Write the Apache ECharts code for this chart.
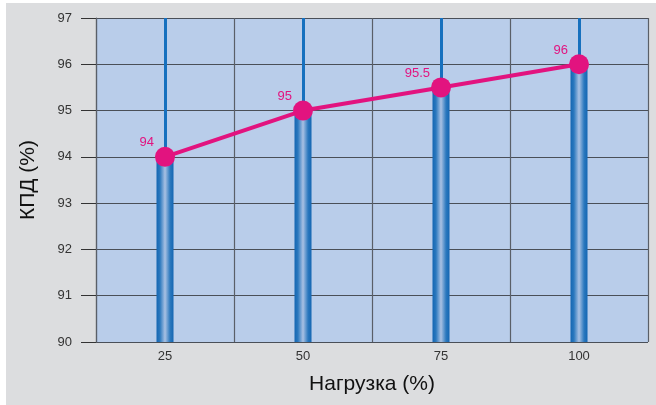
<!DOCTYPE html>
<html>
<head>
<meta charset="utf-8">
<script src="https://cdn.jsdelivr.net/npm/echarts@6/dist/echarts.min.js"></script>
<style>
  html, body { margin: 0; padding: 0; background: #ffffff; }
  #chart { width: 656px; height: 405px; }
</style>
</head>
<body>
<div id="chart"></div>
<script>
// Load levels (%) and measured efficiency (%)
const categories = ['25', '50', '75', '100'];
const efficiency = [94, 95, 95.5, 96];
const yTicks = { min: 90, max: 97, step: 1 };
const xTitle = 'Нагрузка (%)';
const yTitle = 'КПД (%)';

const chart = echarts.init(document.getElementById('chart'), null, { renderer: 'canvas' });

const barGradient = new echarts.graphic.LinearGradient(0, 0, 1, 0, [
  { offset: 0, color: '#1466b2' },
  { offset: 0.2, color: '#2a78be' },
  { offset: 0.5, color: '#a9c1e3' },
  { offset: 0.8, color: '#2a78be' },
  { offset: 1, color: '#1466b2' }
]);

chart.setOption({
  backgroundColor: '#ffffff',
  animation: false,
  graphic: [{
    type: 'rect', z: -10, silent: true,
    shape: { x: 6, y: 3, width: 650, height: 402 },
    style: { fill: '#dcdddf' }
  }],
  grid: {
    left: 96, right: 8, top: 18, bottom: 63,
    show: true, backgroundColor: '#b9cdea', borderWidth: 0
  },
  xAxis: {
    type: 'category',
    data: categories,
    name: xTitle,
    nameLocation: 'middle',
    nameGap: 32,
    nameTextStyle: { fontFamily: 'Liberation Sans', fontSize: 21, color: '#111' },
    axisLine: { show: false },
    axisTick: { show: false },
    axisLabel: { fontFamily: 'Liberation Sans', fontSize: 13, color: '#333', margin: 8 },
    splitLine: { show: true, lineStyle: { color: '#5a5f68', width: 1.2 } }
  },
  yAxis: {
    type: 'value',
    min: yTicks.min, max: yTicks.max, interval: yTicks.step,
    name: yTitle,
    nameLocation: 'middle',
    nameGap: 57,
    nameTextStyle: { fontFamily: 'Liberation Sans', fontSize: 21, color: '#111' },
    axisLine: { show: true, lineStyle: { color: '#5a5f68', width: 1.2 } },
    axisTick: { show: true, length: 15, lineStyle: { color: '#333', width: 1 } },
    axisLabel: { fontFamily: 'Liberation Sans', fontSize: 13, color: '#333', margin: 24 },
    splitLine: { show: true, lineStyle: { color: '#4a4f58', width: 1.2 } }
  },
  series: [
    {
      // full-height guide lines through each load level, kept behind the bars
      type: 'line', data: [], z: 1, silent: true,
      markLine: {
        z: 1,
        silent: true, symbol: 'none', label: { show: false },
        lineStyle: { color: '#1670be', width: 3, type: 'solid' },
        data: categories.map(c => ({ xAxis: c }))
      }
    },
    {
      type: 'bar', z: 2,
      data: efficiency,
      barWidth: 17,
      itemStyle: { color: barGradient }
    },
    {
      type: 'line', z: 3,
      data: efficiency,
      symbol: 'circle', symbolSize: 20,
      lineStyle: { color: '#e2137f', width: 4 },
      itemStyle: { color: '#e2137f' },
      label: {
        show: true, position: 'left', distance: 1, align: 'right',
        offset: [0, -14],
        fontFamily: 'Liberation Sans', fontSize: 13, color: '#e2137f'
      }
    }
  ]
});
</script>
</body>
</html>
